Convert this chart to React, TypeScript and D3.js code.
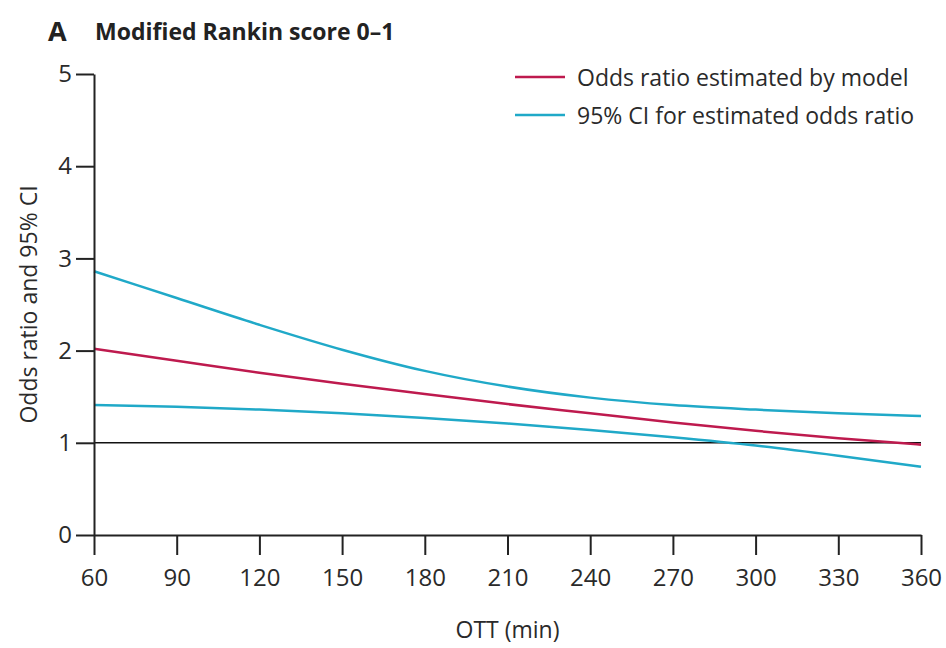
import React, { useEffect, useRef } from "react";
import * as d3 from "d3";

// OTT in minutes
const minutes = [60, 90, 120, 150, 180, 210, 240, 270, 300, 330, 360];
// odds ratio estimated by model
const oddsRatio = [2.02, 1.89, 1.76, 1.64, 1.53, 1.42, 1.32, 1.22, 1.13, 1.05, 0.98];
// 95% CI bounds
const ciUpper = [2.86, 2.57, 2.28, 2.01, 1.78, 1.61, 1.49, 1.41, 1.36, 1.32, 1.29];
const ciLower = [1.41, 1.39, 1.36, 1.32, 1.27, 1.21, 1.14, 1.06, 0.97, 0.86, 0.74];
const xTicks = [60, 90, 120, 150, 180, 210, 240, 270, 300, 330, 360];
const yTicks = [0, 1, 2, 3, 4, 5];
const legendLabels = ["Odds ratio estimated by model", "95% CI for estimated odds ratio"];

const RED = "#be1a4e";
const BLUE = "#20a9c8";
const FONT = "'Open Sans', 'DejaVu Sans', sans-serif";

export default function App() {
  const width = 946;
  const height = 648;
  const margin = { top: 74, right: 25, bottom: 113, left: 94 };
  const axisRef = useRef<SVGGElement>(null);

  const x = d3.scaleLinear().domain([60, 360]).range([margin.left, width - margin.right]);
  const y = d3.scaleLinear().domain([0, 5]).range([height - margin.bottom, margin.top]);

  const line = d3
    .line<number>()
    .x((d, i) => x(minutes[i]))
    .y((d) => y(d))
    .curve(d3.curveMonotoneX);

  useEffect(() => {
    const g = d3.select(axisRef.current);
    g.selectAll("*").remove();

    // x axis
    const xa = g
      .append("g")
      .attr("transform", `translate(0,${y(0)})`)
      .call(d3.axisBottom(x).tickValues(xTicks).tickSize(20).tickSizeOuter(0).tickPadding(14));
    // y axis
    const ya = g
      .append("g")
      .attr("transform", `translate(${x(60)},0)`)
      .call(
        d3
          .axisLeft(y)
          .tickValues(yTicks)
          .tickFormat(d3.format("d"))
          .tickSize(18)
          .tickSizeOuter(0)
          .tickPadding(4)
      );

    [xa, ya].forEach((a) => {
      a.selectAll("path, line").attr("stroke", "#222").attr("stroke-width", 2);
      a.selectAll("text")
        .attr("fill", "#2a2a2a")
        .style("font-family", FONT)
        .style("font-size", "24px");
    });
  }, []);

  return (
    <svg
      width={width}
      height={height}
      style={{ position: "absolute", left: 0, top: 0, background: "#fff" }}
    >
      {/* title */}
      <text x={48} y={41} fontFamily={FONT} fontSize={27} fontWeight="bold" fill="#222">
        A
      </text>
      <text x={95} y={40} fontFamily={FONT} fontSize={23} fontWeight="bold" fill="#222">
        Modified Rankin score  0–1
      </text>

      {/* reference line at OR = 1 */}
      <line
        x1={x(60)}
        x2={x(360)}
        y1={y(1)}
        y2={y(1)}
        stroke="#111"
        strokeWidth={1.6}
      />

      <path d={line(ciUpper) || ""} fill="none" stroke={BLUE} strokeWidth={2.5} />
      <path d={line(ciLower) || ""} fill="none" stroke={BLUE} strokeWidth={2.5} />
      <path d={line(oddsRatio) || ""} fill="none" stroke={RED} strokeWidth={2.5} />

      <g ref={axisRef} />

      {/* axis titles */}
      <text
        x={x(210)}
        y={638}
        textAnchor="middle"
        fontFamily={FONT}
        fontSize={23}
        fill="#2a2a2a"
      >
        OTT (min)
      </text>
      <text
        transform={`translate(37,${y(2.5)}) rotate(-90)`}
        textAnchor="middle"
        fontFamily={FONT}
        fontSize={23}
        fill="#2a2a2a"
      >
        Odds ratio and 95% CI
      </text>

      {/* legend */}
      {legendLabels.map((label, i) => (
        <g key={label} transform={`translate(515,${77 + i * 38})`}>
          <line x1={0} x2={50} y1={0} y2={0} stroke={i === 0 ? RED : BLUE} strokeWidth={2.5} />
          <text
            x={62}
            y={0}
            dominantBaseline="central"
            fontFamily={FONT}
            fontSize={23}
            fill="#2a2a2a"
          >
            {label}
          </text>
        </g>
      ))}
    </svg>
  );
}
